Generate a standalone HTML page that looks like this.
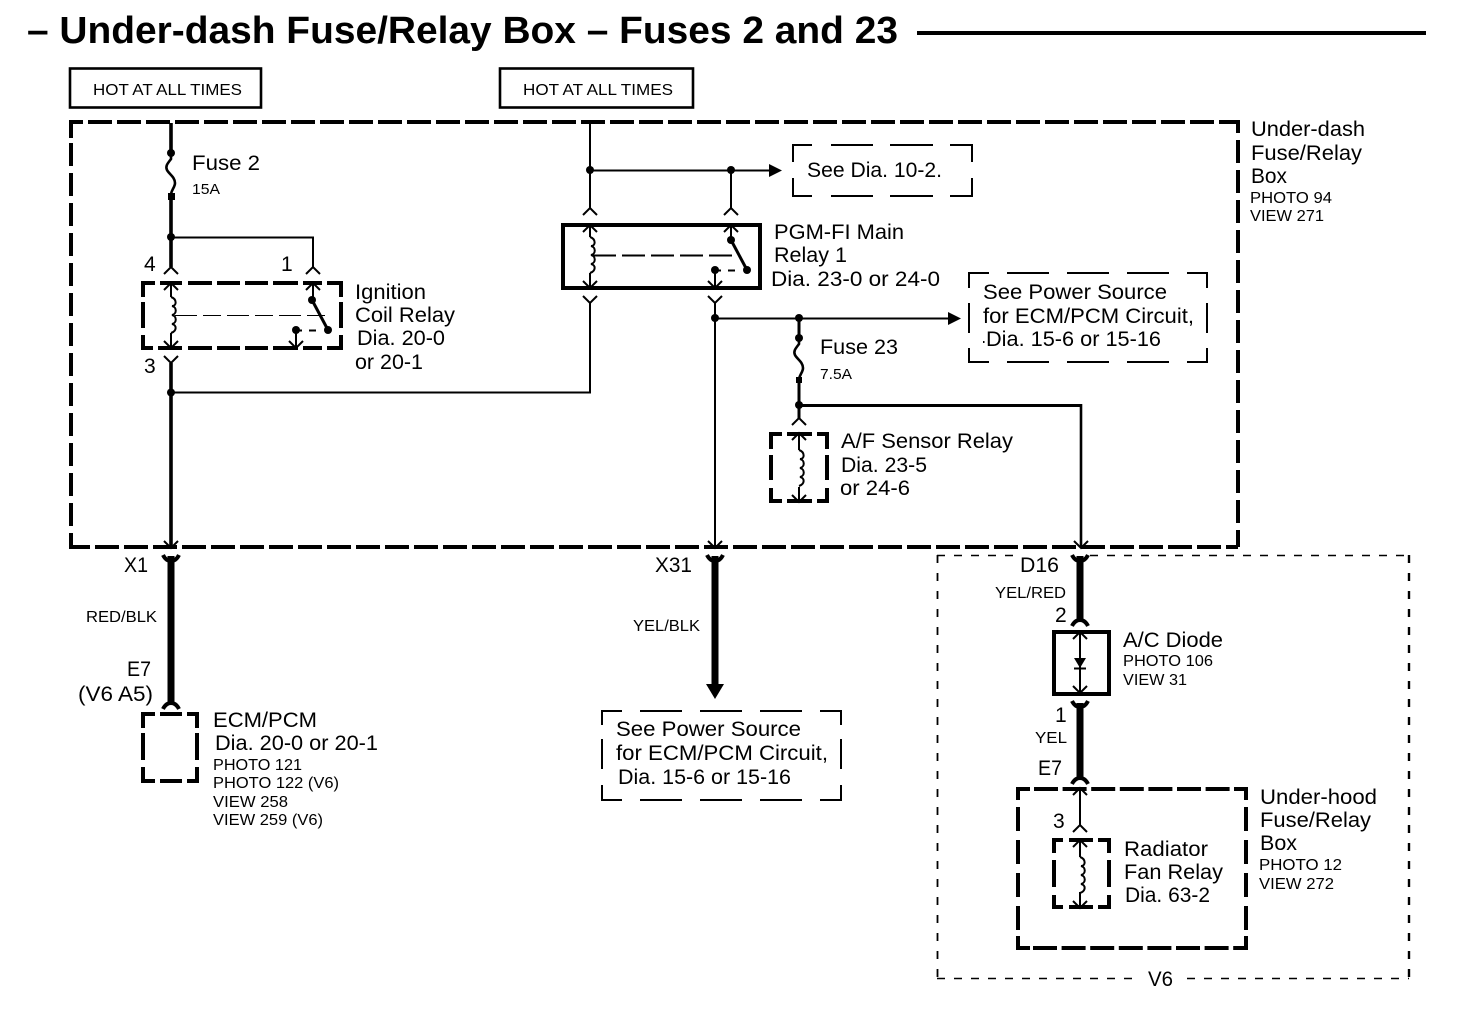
<!DOCTYPE html>
<html><head><meta charset="utf-8"><title>Under-dash Fuse/Relay Box</title>
<style>
html,body{margin:0;padding:0;background:#fff}
svg{display:block}
text{font-family:"Liberation Sans",sans-serif;fill:#000}
.b{font-size:21px}.s{font-size:16px}.t{font-size:15px}
.l{fill:none;stroke:#000;stroke-width:2}
.w{fill:none;stroke:#000;stroke-width:3}
.v{fill:none;stroke:#000;stroke-width:3.6}
.th{fill:none;stroke:#000;stroke-width:7}
.d{fill:#000;stroke:none}
.h{fill:none;stroke:#000;stroke-width:4;stroke-linejoin:miter}
.n{fill:none;stroke:#000;stroke-width:2;stroke-linejoin:miter}
</style></head><body>
<svg width="1472" height="1012" viewBox="0 0 1472 1012" xmlns="http://www.w3.org/2000/svg">
<defs>
<path id="up" d="M-7 7L0 0L7 7" fill="none" stroke="#000" stroke-width="2"/>
<path id="dn" d="M-7 -7L0 0L7 -7M0 -7V0" fill="none" stroke="#000" stroke-width="2"/>
<path id="y" d="M-7 -7L0 0L7 -7" fill="none" stroke="#000" stroke-width="2"/>
<path id="arch" d="M-8 6Q-5 0 0 0Q5 0 8 6" fill="none" stroke="#000" stroke-width="4"/>
<path id="ty" d="M-8 -6Q-5 0 0 0Q5 0 8 -6" fill="none" stroke="#000" stroke-width="4"/>
<path id="coil" d="M0 0C6 2 6 9 1 9C6 10 6 17 1 18C6 19 6 26 1 27C6 28 6 34 0 36" fill="none" stroke="#000" stroke-width="2"/>
<path id="fuse" d="M0 0V6C-3 10 -6 13 -4 17C-2 21 4 24 4 30C4 34 1 36 0 41" fill="none" stroke="#000" stroke-width="2.600"/>
</defs>
<rect width="1472" height="1012" fill="#fff"/>

<text x="27" y="43" font-size="38" font-weight="bold" textLength="871" lengthAdjust="spacingAndGlyphs">– Under-dash Fuse/Relay Box – Fuses 2 and 23</text>
<path d="M917 33H1426" stroke="#000" stroke-width="4" fill="none"/>

<rect x="70" y="68.500" width="191" height="39" fill="none" stroke="#000" stroke-width="2.600"/>
<rect x="500" y="68.500" width="193" height="39" fill="none" stroke="#000" stroke-width="2.600"/>
<text class="s" x="93" y="95" textLength="149" lengthAdjust="spacingAndGlyphs">HOT AT ALL TIMES</text>
<text class="s" x="523" y="95" textLength="150" lengthAdjust="spacingAndGlyphs">HOT AT ALL TIMES</text>

<!-- main box -->
<path class="h" d="M71 138V122H83M1219 122H1238V133M71 535V547H90"/>
<path class="h" stroke-dasharray="24 5" d="M88 122H1219"/>
<path class="h" stroke-dasharray="24 5" d="M95 547H1238"/>
<path class="h" stroke-dasharray="23 7" d="M71 143V535"/>
<path class="h" stroke-dasharray="23 7" d="M1238 140V547"/>
<text class="b" x="1251" y="136" textLength="114" lengthAdjust="spacingAndGlyphs">Under-dash</text>
<text class="b" x="1251" y="160" textLength="111" lengthAdjust="spacingAndGlyphs">Fuse/Relay</text>
<text class="b" x="1251" y="183" textLength="36" lengthAdjust="spacingAndGlyphs">Box</text>
<text class="s" x="1250" y="203" textLength="82" lengthAdjust="spacingAndGlyphs">PHOTO 94</text>
<text class="s" x="1250" y="221" textLength="74" lengthAdjust="spacingAndGlyphs">VIEW 271</text>

<!-- Fuse 2 branch -->
<path class="v" d="M171 123V153M171 196V267"/>
<circle class="d" cx="171" cy="153" r="4"/>
<use href="#fuse" x="171" y="153"/>
<rect class="d" x="168" y="193" width="7" height="7"/>
<circle class="d" cx="171" cy="237" r="4"/>
<path class="l" d="M171 237.500H313V267"/>
<use href="#up" x="171" y="267"/><use href="#up" x="313" y="267"/>
<text class="b" x="192" y="170" textLength="68" lengthAdjust="spacingAndGlyphs">Fuse 2</text>
<text class="t" x="192" y="194" textLength="28" lengthAdjust="spacingAndGlyphs">15A</text>
<text class="b" x="144" y="271" font-size="22">4</text>
<text class="b" x="281" y="271">1</text>

<!-- Ignition relay -->
<path class="h" d="M143 297V283H155M160 283H182M188 283H212M217 283H240M245 283H268M273 283H298M303 283H322M327 283H341V297M143 302V328M341 302V328M143 335V348H153M158 348H182M188 348H212M217 348H240M245 348H268M273 348H298M303 348H322M327 348H341V335"/>
<use href="#up" x="171" y="283"/>
<path d="M164 283.500H178M306 283.500H320" stroke="#000" stroke-width="2" fill="none"/>
<path class="l" d="M171 283V297M171 333V348M313 283V300"/>
<use href="#up" x="313" y="283"/>
<use href="#coil" x="171" y="297"/>
<use href="#dn" x="171" y="348"/>
<path d="M175 315.500H327" fill="none" stroke="#000" stroke-width="1" stroke-dasharray="22 6 18 6"/>
<circle class="d" cx="312" cy="300" r="4"/>
<circle class="d" cx="328" cy="330" r="4"/>
<circle class="d" cx="296" cy="330" r="4"/>
<path class="w" d="M312 300L328 330"/>
<path d="M299 330.500H325" fill="none" stroke="#000" stroke-width="2" stroke-dasharray="3 7 7 9"/>
<path class="l" d="M296 330V348"/>
<use href="#dn" x="296" y="348"/>
<use href="#y" x="171" y="363"/>
<path class="v" d="M171 363V547"/>
<text class="b" x="144" y="373" font-size="22">3</text>
<circle class="d" cx="171" cy="392.500" r="4"/>
<path class="l" d="M171 392.500H590V303"/>
<use href="#y" x="590" y="303"/>
<text class="b" x="355" y="299" textLength="71" lengthAdjust="spacingAndGlyphs">Ignition</text>
<text class="b" x="355" y="322" textLength="100" lengthAdjust="spacingAndGlyphs">Coil Relay</text>
<text class="b" x="357" y="345" textLength="88" lengthAdjust="spacingAndGlyphs">Dia. 20-0</text>
<text class="b" x="355" y="369" textLength="68" lengthAdjust="spacingAndGlyphs">or 20-1</text>

<!-- PGM-FI relay -->
<path class="l" d="M590 123V208M590 170.500H770M731 170V208"/>
<circle class="d" cx="590" cy="170" r="4"/><circle class="d" cx="731" cy="170" r="4"/>
<path class="d" d="M769 164L782 170.500L769 177Z"/>
<use href="#up" x="590" y="208"/><use href="#up" x="731" y="208"/>
<rect x="563" y="225" width="197" height="63" fill="none" stroke="#000" stroke-width="4"/>
<use href="#up" x="590" y="225"/><use href="#up" x="731" y="225"/>
<path class="l" d="M590 225V237M590 273V288M731 225V240"/>
<use href="#coil" x="590" y="237"/>
<use href="#dn" x="590" y="288"/>
<path d="M593 255.500H737" fill="none" stroke="#000" stroke-width="2" stroke-dasharray="23 6"/>
<circle class="d" cx="731" cy="240" r="4"/>
<circle class="d" cx="747" cy="270" r="4"/>
<circle class="d" cx="715" cy="270" r="4"/>
<path class="w" d="M731 240L747 270"/>
<path d="M718 270.500H745" fill="none" stroke="#000" stroke-width="2" stroke-dasharray="3 7 7 9"/>
<path class="l" d="M715 270V288"/>
<use href="#dn" x="715" y="288"/>
<use href="#y" x="715" y="303"/>
<path class="l" d="M715 303V547M715 318.500H950"/>
<circle class="d" cx="715" cy="318" r="4"/>
<path class="d" d="M948 312L961 318.500L948 325Z"/>
<text class="b" x="774" y="239" textLength="130" lengthAdjust="spacingAndGlyphs">PGM-FI Main</text>
<text class="b" x="774" y="262" textLength="73" lengthAdjust="spacingAndGlyphs">Relay 1</text>
<text class="b" x="771" y="286" textLength="169" lengthAdjust="spacingAndGlyphs">Dia. 23-0 or 24-0</text>

<!-- See boxes -->
<path class="n" d="M793 162V145H812M831 145H873M890 145H933M950 145H972V162M793 178V196H812M831 196H873M890 196H933M950 196H972V178"/>
<text class="b" x="807" y="177" textLength="135" lengthAdjust="spacingAndGlyphs">See Dia. 10-2.</text>
<path class="n" d="M969 288V273H989M1007 273H1049M1067 273H1109M1127 273H1169M1187 273H1207V288M969 303V333M1207 303V333M969 348V362H989M1007 362H1049M1067 362H1109M1127 362H1169M1187 362H1207V348"/>
<text class="b" x="983" y="299" textLength="184" lengthAdjust="spacingAndGlyphs">See Power Source</text>
<text class="b" x="983" y="323" textLength="211" lengthAdjust="spacingAndGlyphs">for ECM/PCM Circuit,</text>
<rect class="d" x="983" y="341" width="1.500" height="2"/>
<text class="b" x="986" y="346" textLength="175" lengthAdjust="spacingAndGlyphs">Dia. 15-6 or 15-16</text>

<!-- Fuse 23 -->
<path class="w" d="M799 318V338M799 379V418"/>
<circle class="d" cx="799" cy="318" r="4"/>
<circle class="d" cx="799" cy="338" r="4"/>
<use href="#fuse" x="799" y="338"/>
<rect class="d" x="796" y="377" width="6" height="6"/>
<circle class="d" cx="799" cy="405" r="4"/>
<path class="w" d="M799 405.500H1081"/>
<path d="M1081 404V547" fill="none" stroke="#000" stroke-width="2.600"/>
<use href="#up" x="799" y="418"/>
<text class="b" x="820" y="354" textLength="78" lengthAdjust="spacingAndGlyphs">Fuse 23</text>
<text class="t" x="820" y="379" textLength="32" lengthAdjust="spacingAndGlyphs">7.5A</text>

<!-- A/F relay -->
<path class="h" d="M782 434H771V449M787 434H812M817 434H827V449M771 455V480M827 455V480M771 488V501H782M787 501H812M817 501H827V488"/>
<use href="#up" x="799" y="433"/>
<path class="l" d="M799 433V450M799 487V502"/>
<use href="#coil" x="799" y="450"/>
<use href="#dn" x="799" y="502"/>
<text class="b" x="841" y="448" textLength="172" lengthAdjust="spacingAndGlyphs">A/F Sensor Relay</text>
<text class="b" x="841" y="472" textLength="86" lengthAdjust="spacingAndGlyphs">Dia. 23-5</text>
<text class="b" x="840" y="495" textLength="70" lengthAdjust="spacingAndGlyphs">or 24-6</text>

<!-- bottom arrows into box edge -->
<use href="#y" x="171" y="548"/><use href="#y" x="715" y="548"/><use href="#y" x="1081" y="548"/>

<!-- X1 -->
<path class="th" d="M171 556V702"/>
<use href="#ty" x="171" y="561"/><use href="#arch" x="171" y="703"/>
<text class="b" x="124" y="572" textLength="24" lengthAdjust="spacingAndGlyphs">X1</text>
<text class="s" x="86" y="622" textLength="71" lengthAdjust="spacingAndGlyphs">RED/BLK</text>
<text class="b" x="127" y="676" textLength="24" lengthAdjust="spacingAndGlyphs">E7</text>
<text class="b" x="78" y="701" textLength="75" lengthAdjust="spacingAndGlyphs">(V6 A5)</text>
<path class="h" d="M155 714H143V728M160 714H182M187 714H197V728M143 733V760M197 733V760M143 767V781H155M160 781H182M187 781H197V767"/>
<text class="b" x="213" y="727" textLength="104" lengthAdjust="spacingAndGlyphs">ECM/PCM</text>
<text class="b" x="215" y="750" textLength="163" lengthAdjust="spacingAndGlyphs">Dia. 20-0 or 20-1</text>
<text class="s" x="213" y="770" textLength="89" lengthAdjust="spacingAndGlyphs">PHOTO 121</text>
<text class="s" x="213" y="788" textLength="126" lengthAdjust="spacingAndGlyphs">PHOTO 122 (V6)</text>
<text class="s" x="213" y="807" textLength="75" lengthAdjust="spacingAndGlyphs">VIEW 258</text>
<text class="s" x="213" y="825" textLength="110" lengthAdjust="spacingAndGlyphs">VIEW 259 (V6)</text>

<!-- X31 -->
<path class="th" d="M715 556V686"/>
<use href="#ty" x="715" y="561"/>
<path class="d" d="M706 684H724L715 699Z"/>
<text class="b" x="655" y="572" textLength="37" lengthAdjust="spacingAndGlyphs">X31</text>
<text class="s" x="633" y="631" textLength="67" lengthAdjust="spacingAndGlyphs">YEL/BLK</text>
<path class="n" d="M602 725V711H622M640 711H682M700 711H742M760 711H802M820 711H841V725M602 739V769M841 739V769M602 785V800H622M640 800H682M700 800H742M760 800H802M820 800H841V785"/>
<text class="b" x="616" y="736" textLength="185" lengthAdjust="spacingAndGlyphs">See Power Source</text>
<text class="b" x="616" y="760" textLength="212" lengthAdjust="spacingAndGlyphs">for ECM/PCM Circuit,</text>
<text class="b" x="618" y="784" textLength="173" lengthAdjust="spacingAndGlyphs">Dia. 15-6 or 15-16</text>

<!-- V6 box -->
<path d="M937 555.500H1020M1090 555.500H1409" fill="none" stroke="#000" stroke-width="1.600" stroke-dasharray="8 9"/>
<path d="M937.500 555V978" fill="none" stroke="#000" stroke-width="1.800" stroke-dasharray="8 10"/>
<path d="M1409 555V978" fill="none" stroke="#000" stroke-width="2.400" stroke-dasharray="8 10"/>
<path d="M937 978.500H1134M1187 978.500H1409" fill="none" stroke="#000" stroke-width="1.600" stroke-dasharray="8 9"/>
<text class="b" x="1148" y="986" textLength="25" lengthAdjust="spacingAndGlyphs">V6</text>

<!-- D16 / diode -->
<path class="th" d="M1080 556V622"/>
<use href="#ty" x="1080" y="561"/><use href="#arch" x="1080" y="620"/>
<text class="b" x="1020" y="572" textLength="39" lengthAdjust="spacingAndGlyphs">D16</text>
<text class="s" x="995" y="598" textLength="71" lengthAdjust="spacingAndGlyphs">YEL/RED</text>
<text class="b" x="1055" y="622">2</text>
<rect x="1054" y="632" width="55" height="62" fill="none" stroke="#000" stroke-width="4"/>
<use href="#up" x="1080" y="632"/>
<path class="l" d="M1080 632V693"/>
<path class="d" d="M1074 658H1086L1080 668Z"/>
<path d="M1074 668.500H1086" stroke="#000" stroke-width="2" fill="none"/>
<use href="#dn" x="1080" y="693"/>
<text class="b" x="1123" y="647" textLength="100" lengthAdjust="spacingAndGlyphs">A/C Diode</text>
<text class="s" x="1123" y="666" textLength="90" lengthAdjust="spacingAndGlyphs">PHOTO 106</text>
<text class="s" x="1123" y="685" textLength="64" lengthAdjust="spacingAndGlyphs">VIEW 31</text>

<path class="th" d="M1080 703V779"/>
<use href="#ty" x="1080" y="707"/><use href="#arch" x="1080" y="778"/>
<text class="b" x="1055" y="722">1</text>
<text class="s" x="1035" y="743" textLength="32" lengthAdjust="spacingAndGlyphs">YEL</text>
<text class="b" x="1038" y="775" textLength="24" lengthAdjust="spacingAndGlyphs">E7</text>

<!-- Under-hood box -->
<path class="h" d="M1018 800V789H1030M1234 789H1246V800M1018 936V948H1030M1234 948H1246V936"/>
<path class="h" stroke-dasharray="24 4.600" d="M1034 789H1234"/>
<path class="h" stroke-dasharray="24 4.600" d="M1033 948H1234"/>
<path class="h" stroke-dasharray="24 9" d="M1018 807V930"/>
<path class="h" stroke-dasharray="24 9" d="M1246 807V930"/>
<use href="#up" x="1080" y="788"/>
<path class="l" d="M1080 788V825"/>
<use href="#up" x="1080" y="825"/>
<text class="b" x="1053" y="828">3</text>
<path class="h" d="M1063 840H1054V853M1069 840H1093M1098 840H1109V853M1054 860V887M1109 860V887M1054 895V907H1063M1069 907H1093M1098 907H1109V895"/>
<use href="#up" x="1080" y="840"/>
<path class="l" d="M1080 840V857M1080 892V908"/>
<use href="#coil" x="1080" y="857"/>
<use href="#dn" x="1080" y="908"/>
<text class="b" x="1124" y="856" textLength="84" lengthAdjust="spacingAndGlyphs">Radiator</text>
<text class="b" x="1124" y="879" textLength="99" lengthAdjust="spacingAndGlyphs">Fan Relay</text>
<text class="b" x="1125" y="902" textLength="85" lengthAdjust="spacingAndGlyphs">Dia. 63-2</text>
<text class="b" x="1260" y="804" textLength="117" lengthAdjust="spacingAndGlyphs">Under-hood</text>
<text class="b" x="1260" y="827" textLength="111" lengthAdjust="spacingAndGlyphs">Fuse/Relay</text>
<text class="b" x="1260" y="850" textLength="37" lengthAdjust="spacingAndGlyphs">Box</text>
<text class="s" x="1259" y="870" textLength="83" lengthAdjust="spacingAndGlyphs">PHOTO 12</text>
<text class="s" x="1259" y="889" textLength="75" lengthAdjust="spacingAndGlyphs">VIEW 272</text>
</svg>
</body></html>
